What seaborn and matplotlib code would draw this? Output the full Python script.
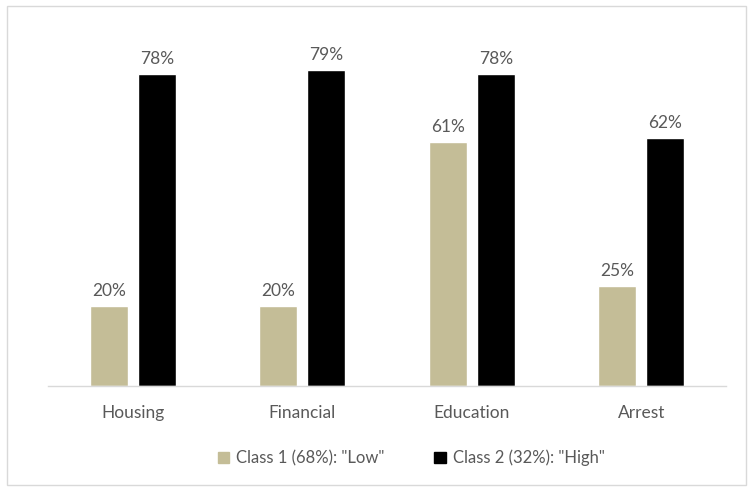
import matplotlib.pyplot as plt
import matplotlib.patches as patches
import numpy as np
import pandas as pd
import seaborn as sns

# dane z wykresu
categories = ['Housing', 'Financial', 'Education', 'Arrest']
class1 = [20, 20, 61, 25]
class2 = [78, 79, 78, 62]
series_names = ['Class 1 (68%): "Low"', 'Class 2 (32%): "High"']

colorTan = '#c4bd97'
colorBlack = '#000000'
colorText = '#595959'
colorLine = '#d9d9d9'

df = pd.DataFrame({
    'category': categories * 2,
    'value': class1 + class2,
    'series': [series_names[0]] * 4 + [series_names[1]] * 4,
})

sns.set_style('white')
plt.rcParams['font.family'] = ['Lato', 'DejaVu Sans']

fig = plt.figure(figsize=(7.54, 4.91), dpi=100)
ax = fig.add_axes([48 / 754, 1 - 386 / 491, 678 / 754, 360 / 491])

sns.barplot(data=df, x='category', y='value', hue='series', order=categories,
            hue_order=series_names, palette=[colorTan, colorBlack],
            width=0.566, gap=0.21, saturation=1, ax=ax, legend=False)

# etykiety nad słupkami
for cont in ax.containers:
    ax.bar_label(cont, labels=['%d%%' % v for v in cont.datavalues],
                 padding=5, fontsize=12.5, color=colorText)

ax.set_xlim(-0.5, 3.5)
ax.set_ylim(0, 90)
ax.set_xlabel('')
ax.set_ylabel('')
ax.set_yticks([])
ax.tick_params(axis='x', length=0, pad=14, labelsize=12.5, labelcolor=colorText)
for s in ['top', 'right', 'left']:
    ax.spines[s].set_visible(False)
ax.spines['bottom'].set_color(colorLine)
ax.spines['bottom'].set_linewidth(1)

# legenda
handles = [patches.Patch(color=colorTan), patches.Patch(color=colorBlack)]
fig.legend(handles, series_names, loc='center', bbox_to_anchor=(411 / 754, 1 - 458 / 491),
           ncol=2, frameon=False, fontsize=12, labelcolor=colorText,
           handlelength=0.7, handleheight=0.7, handletextpad=0.4, columnspacing=3.0)

# ramka
fig.patches.append(patches.Rectangle((7 / 754, 1 - 485 / 491), 739 / 754, 479 / 491,
                                     transform=fig.transFigure, fill=False,
                                     edgecolor=colorLine, linewidth=1))

fig.savefig('out.png', dpi=100)
